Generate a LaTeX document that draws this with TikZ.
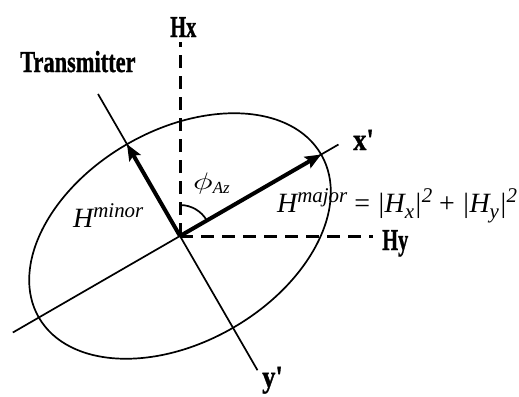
\documentclass[tikz,border=0pt]{standalone}
\usepackage{fontspec}
\usepackage{graphicx}
\setmainfont{Liberation Serif}
\newfontfamily\heavyfont{Liberation Serif Bold}[FakeBold=1.2]
\usetikzlibrary{arrows.meta,calc}
\newcommand{\sqz}[3]{\scalebox{#1}[#2]{#3}}
\newcommand{\supx}[1]{\raisebox{10bp}{\fontsize{21}{22}\selectfont #1}}
\newcommand{\subx}[1]{\raisebox{-6bp}{\fontsize{21}{22}\selectfont #1}}
\begin{document}
\begin{tikzpicture}[x=1bp,y=1bp,
  thinline/.style={line width=1.7bp},
  dashline/.style={line width=3bp,dash pattern=on 13bp off 8bp},
  vec/.style={line width=4bp,-{Stealth[length=16bp,width=13bp,inset=3bp]}},
  boldlab/.style={inner sep=0pt,font=\fontsize{25}{28}\selectfont\heavyfont},
  itlab/.style={inner sep=0pt,font=\fontsize{28}{30}\selectfont\itshape}]
\useasboundingbox (0,0) rectangle (519,396);
\coordinate (O) at (180,160);
\coordinate (hxtop) at (180,354);
\coordinate (hyend) at (373,160);
\coordinate (xa) at ($(O)+(30:183)$);
\coordinate (xb) at ($(O)+(210:193)$);
\coordinate (ya) at ($(O)+(120:164)$);
\coordinate (yb) at ($(O)+(300:155)$);
\coordinate (majtip) at ($(O)+(30:163)$);
\coordinate (mintip) at ($(O)+(120:106)$);
% axes
\draw[thinline] (xb) -- (xa);
\draw[thinline] (ya) -- (yb);
\draw[thinline, rotate around={30:(O)}] (O) ellipse [x radius=163, y radius=106];
% dashed reference axes
\draw[dashline] (O) -- (hxtop);
\draw[dashline] (O) -- (hyend);
% vectors
\draw[vec] (O) -- (majtip);
\draw[vec] (O) -- (mintip);
% angle arc
\draw[thinline] ($(O)+(90:31)$) arc[start angle=90,end angle=30,radius=31];
% labels
\node[boldlab,anchor=base west] (hx) at (170,359) {\sqz{0.82}{1.22}{Hx}};
\node[boldlab,anchor=base west] (hy) at (382,146) {\sqz{0.82}{1.22}{Hy}};
\node[boldlab,anchor=base west] (tx) at (20,324) {\sqz{0.9}{1.22}{Transmitter}};
\node[boldlab,anchor=base west,font=\fontsize{28}{30}\selectfont\heavyfont] (xl) at (353,246) {\sqz{0.95}{1.1}{x\textquotesingle}};
\node[boldlab,anchor=base west,font=\fontsize{28}{30}\selectfont\heavyfont] (yl) at (262,9) {\sqz{0.95}{1.1}{y\textquotesingle}};
\node[itlab,anchor=base west] (hmin) at (73,169) {H\supx{minor}};
\node[itlab,anchor=base west] (hmaj) at (277,184) {H\supx{major}\ \textup{=}\ |H\subx{x}|\supx{2}\ \textup{+}\ |H\subx{y}|\supx{2}};
\node[inner sep=0pt,anchor=base west] (phi) at (193,207) {\scalebox{3.3}[2.4]{$\phi$}\raisebox{-4bp}{\fontsize{17}{18}\selectfont\itshape Az}};
\end{tikzpicture}
\end{document}
